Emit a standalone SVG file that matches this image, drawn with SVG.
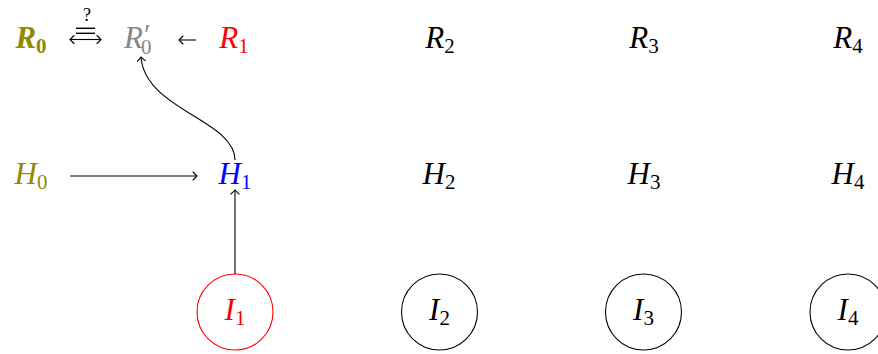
<svg xmlns="http://www.w3.org/2000/svg" width="878" height="354" viewBox="0 0 878 354">
<style>
.t{font-family:'Liberation Serif',serif;font-size:31px;font-style:italic;text-anchor:middle}
.sub{font-size:21px;font-style:normal}
.olive{fill:#8f8a00}
.gray{fill:#888888}
.red{fill:#ff0000}
.blue{fill:#0000ff}
.conn{fill:none;stroke:#000;stroke-width:1.1}
.circ{fill:none;stroke-width:1.1}
</style>
<defs>
<marker id="ah" markerUnits="userSpaceOnUse" markerWidth="12" markerHeight="12" refX="0" refY="0" viewBox="-6 -6 12 12" orient="auto-start-reverse" overflow="visible">
<path d="M-4,-4 Q-1,-0.8 0,0 Q-1,0.8 -4,4" fill="none" stroke="#000" stroke-width="1.1" stroke-linecap="round"/>
</marker>
</defs>
<rect width="878" height="354" fill="#fff"/>

<g id="R0"><text x="31" y="48" class="t olive" font-weight="bold">R<tspan class="sub" dy="5" font-weight="bold">0</tspan></text></g>
<g id="equiv">
<text x="87" y="21" class="t" style="font-size:18px;font-style:normal">?</text>
<line x1="76" y1="28.3" x2="95" y2="28.3" stroke="#000" stroke-width="1.4"/>
<line x1="76" y1="33.3" x2="95" y2="33.3" stroke="#000" stroke-width="1.4"/>
<line x1="70" y1="39.5" x2="101" y2="39.5" class="conn" marker-start="url(#ah)" marker-end="url(#ah)"/>
</g>
<g id="R0p"><text x="124" y="48" class="t gray" style="text-anchor:start">R<tspan x="144" y="44" style="font-size:30px;font-style:normal">′</tspan><tspan x="141" y="54" class="sub">0</tspan></text></g>
<g id="R1"><text x="234" y="48" class="t red">R<tspan class="sub" dy="5">1</tspan></text></g>
<g id="R2"><text x="440" y="48" class="t">R<tspan class="sub" dy="5">2</tspan></text></g>
<g id="R3"><text x="644" y="48" class="t">R<tspan class="sub" dy="5">3</tspan></text></g>
<g id="R4"><text x="848" y="48" class="t">R<tspan class="sub" dy="5">4</tspan></text></g>

<g id="H0"><text x="31" y="184" class="t olive">H<tspan class="sub" dy="5">0</tspan></text></g>
<g id="H1"><text x="235" y="184" class="t blue">H<tspan class="sub" dy="5">1</tspan></text></g>
<g id="H2"><text x="439" y="184" class="t">H<tspan class="sub" dy="5">2</tspan></text></g>
<g id="H3"><text x="644" y="184" class="t">H<tspan class="sub" dy="5">3</tspan></text></g>
<g id="H4"><text x="848" y="184" class="t">H<tspan class="sub" dy="5">4</tspan></text></g>

<g id="I1"><circle cx="235" cy="312" r="38" class="circ" stroke="#ff0000"/><text x="235" y="320" class="t red">I<tspan class="sub" dy="5">1</tspan></text></g>
<g id="I2"><circle cx="439.5" cy="312" r="38" class="circ" stroke="#000"/><text x="439.5" y="320" class="t">I<tspan class="sub" dy="5">2</tspan></text></g>
<g id="I3"><circle cx="643.5" cy="312" r="38" class="circ" stroke="#000"/><text x="643.5" y="320" class="t">I<tspan class="sub" dy="5">3</tspan></text></g>
<g id="I4"><circle cx="848" cy="312" r="38" class="circ" stroke="#000"/><text x="848" y="320" class="t">I<tspan class="sub" dy="5">4</tspan></text></g>

<g id="connectors">
<line x1="196" y1="40" x2="179" y2="40" class="conn" marker-end="url(#ah)"/>
<line x1="70" y1="176" x2="197" y2="176" class="conn" marker-end="url(#ah)"/>
<line x1="235" y1="274" x2="235" y2="190" class="conn" marker-end="url(#ah)"/>
<path d="M235,160 C235,120 145,110 141,57" class="conn" marker-end="url(#ah)"/>
</g>
</svg>
